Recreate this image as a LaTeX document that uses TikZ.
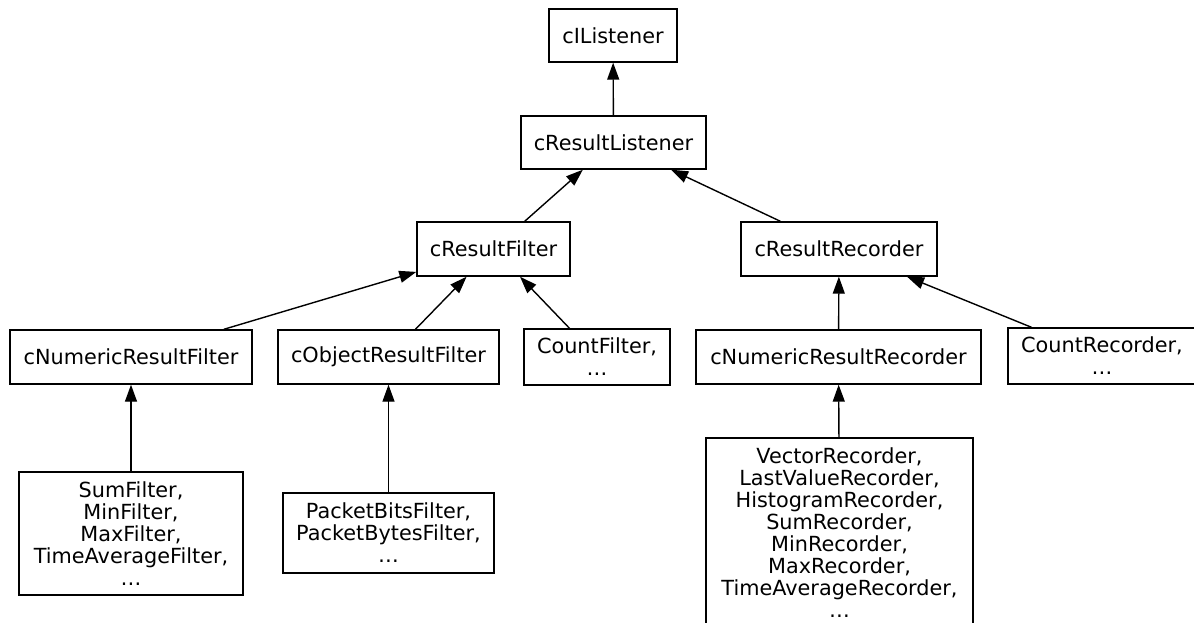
\documentclass[tikz,border=0pt]{standalone}
\usepackage{fontspec}
\setmainfont{DejaVu Sans}
\usetikzlibrary{arrows.meta}
\begin{document}
\begin{tikzpicture}[x=1pt,y=-1pt,
    cls/.style={draw,line width=1.4pt,inner sep=0pt,align=center,
      font=\fontsize{20.8}{22}\selectfont},
    inh/.style={->,>={Triangle[length=17pt,width=12pt]},line width=1.4pt}]
  \useasboundingbox (0,0) rectangle (1194,623);
  % base classes
  \node[cls,minimum width=128pt,minimum height=53pt] (lis) at (613,35.5) {cIListener};
  \node[cls,minimum width=185pt,minimum height=53pt] (rlis) at (613.5,142.5) {cResultListener};
  \node[cls,minimum width=153pt,minimum height=54pt] (rfil) at (493.5,249) {cResultFilter};
  \node[cls,minimum width=196pt,minimum height=54pt] (rrec) at (839,249) {cResultRecorder};
  % second row
  \node[cls,minimum width=242pt,minimum height=54pt] (nfil) at (131,357) {cNumericResultFilter};
  \node[cls,minimum width=221pt,minimum height=54pt] (ofil) at (388.5,357) {cObjectResultFilter};
  \node[cls,minimum width=146pt,minimum height=56pt] (cfil) at (597,357) {CountFilter,\\\dots};
  \node[cls,minimum width=285pt,minimum height=54pt] (nrec) at (838.5,357) {cNumericResultRecorder};
  \node[cls,minimum width=188pt,minimum height=56pt] (crec) at (1102,356) {CountRecorder,\\\dots};
  % concrete classes
  \node[cls,minimum width=224pt,minimum height=123pt] (sumf) at (131,533.5)
    {SumFilter,\\MinFilter,\\MaxFilter,\\TimeAverageFilter,\\\dots};
  \node[cls,minimum width=211pt,minimum height=80pt] (pktf) at (388.5,533)
    {PacketBitsFilter,\\PacketBytesFilter,\\\dots};
  \node[cls,minimum width=267pt,minimum height=190pt] (vecr) at (839.5,533)
    {VectorRecorder,\\LastValueRecorder,\\HistogramRecorder,\\SumRecorder,\\MinRecorder,\\MaxRecorder,\\TimeAverageRecorder,\\\dots};
  % inheritance
  \draw[inh] (rlis)--(lis);
  \draw[inh] (rfil)--(rlis);
  \draw[inh] (rrec)--(rlis);
  \draw[inh] (nfil)--(rfil);
  \draw[inh] (ofil)--(rfil);
  \draw[inh] (cfil)--(rfil);
  \draw[inh] (nrec)--(rrec);
  \draw[inh] (crec)--(rrec);
  \draw[inh] (sumf)--(nfil);
  \draw[inh] (pktf)--(ofil);
  \draw[inh] (vecr)--(nrec);
\end{tikzpicture}
\end{document}
